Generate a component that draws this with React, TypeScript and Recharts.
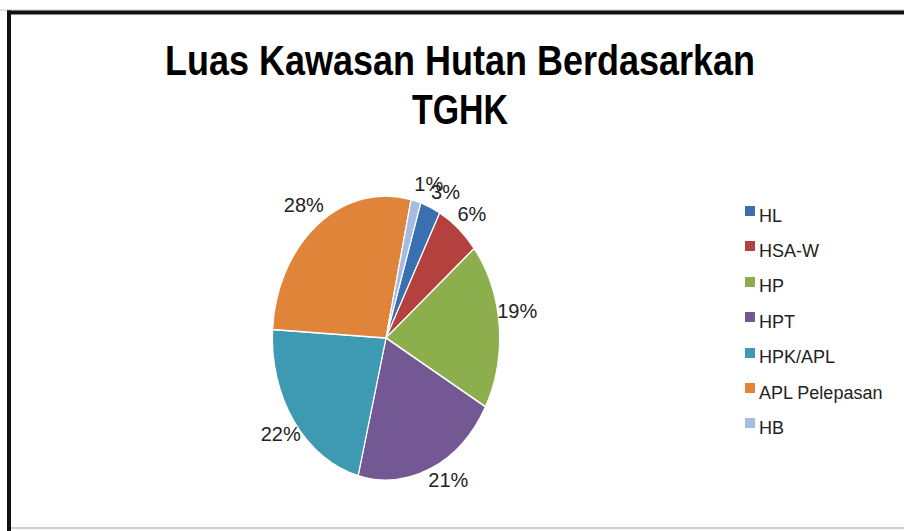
import { Cell, Legend, Pie, PieChart } from 'recharts';

const CATEGORIES = ['HL', 'HSA-W', 'HP', 'HPT', 'HPK/APL', 'APL Pelepasan', 'HB'];
const SHARES = [2.9, 6.3, 18.9, 20.9, 22.0, 27.6, 1.4];
const COLORS = ['#3a6fb0', '#b5413f', '#8cae4c', '#735893', '#3e9ab3', '#e0843a', '#a7bbe0'];
const TITLE_LINES = ['Luas Kawasan Hutan Berdasarkan', 'TGHK'];

const pieData = CATEGORIES.map((name, i) => ({ name, value: SHARES[i] }));

const CX = 386;
const CY = 338;
const RADIUS = 142;
const SQUEEZE = 0.8; // the pie is drawn as an ellipse, narrower than tall
const RAD = Math.PI / 180;

// small hand nudges so the labels sit where the original placed them
const LABEL_NUDGE: [number, number][] = [
  [8, 6],
  [2, 3],
  [0, -12],
  [10, -9],
  [1, -1],
  [-3, -1],
  [8, 5]
];

type LabelProps = { cx: number; cy: number; midAngle: number; outerRadius: number; percent: number; index: number };

function renderLabel({ cx, cy, midAngle, outerRadius, percent, index }: LabelProps) {
  const k = 1.16;
  const [nx, ny] = LABEL_NUDGE[index] || [0, 0];
  const x = cx + Math.cos(-midAngle * RAD) * outerRadius * SQUEEZE * k + nx;
  const y = cy + Math.sin(-midAngle * RAD) * outerRadius * k + ny;
  return (
    <text
      x={x}
      y={y}
      textAnchor="middle"
      dominantBaseline="central"
      fill="#222"
      fontSize={20}
      fontFamily="'Liberation Sans', Arial, sans-serif"
    >
      {`${Math.round(percent * 100)}%`}
    </text>
  );
}

function renderLegend() {
  return (
    <div style={{ position: 'relative' }}>
      {CATEGORIES.map((name, i) => (
        <div key={name} style={{ position: 'relative', height: 35.4 }}>
          <span
            style={{
              position: 'absolute',
              left: 0,
              top: 13,
              width: 10,
              height: 10,
              background: COLORS[i]
            }}
          />
          <span
            style={{
              position: 'absolute',
              left: 14,
              top: 12.6,
              fontSize: 18,
              lineHeight: 'normal',
              whiteSpace: 'nowrap',
              color: '#222'
            }}
          >
            {name}
          </span>
        </div>
      ))}
    </div>
  );
}

export default function App() {
  return (
    <div
      style={{
        position: 'fixed',
        left: 0,
        top: 0,
        width: 904,
        height: 531,
        overflow: 'hidden',
        background: '#fff',
        fontFamily: "'Liberation Sans', Arial, sans-serif"
      }}
    >
      <style>{`.tghk-pie path.recharts-sector { transform: scaleX(${SQUEEZE}); transform-origin: ${CX}px ${CY}px; }`}</style>

      <svg width={904} height={531} style={{ position: 'absolute', left: 0, top: 0 }}>
        {/* frame: only top, left and a faint bottom edge are visible in the original */}
        <line x1={0} y1={10} x2={904} y2={10} stroke="#c8c8c8" strokeWidth={1} />
        <line x1={7} y1={12.5} x2={904} y2={12.5} stroke="#111" strokeWidth={4} />
        <line x1={9} y1={10.5} x2={9} y2={531} stroke="#111" strokeWidth={4} />
        <line x1={11} y1={528} x2={904} y2={528} stroke="#d0d0d0" strokeWidth={2} />
        <text
          x={460}
          y={75}
          textAnchor="middle"
          fontSize={42}
          fontWeight="bold"
          fill="#000"
          textLength={590}
          lengthAdjust="spacingAndGlyphs"
        >
          {TITLE_LINES[0]}
        </text>
        <text
          x={460}
          y={124}
          textAnchor="middle"
          fontSize={42}
          fontWeight="bold"
          fill="#000"
          textLength={96}
          lengthAdjust="spacingAndGlyphs"
        >
          {TITLE_LINES[1]}
        </text>
      </svg>

      <div style={{ position: 'absolute', left: 0, top: 0 }}>
        <PieChart className="tghk-pie" width={904} height={531} margin={{ top: 0, right: 0, bottom: 0, left: 0 }}>
          <Pie
            data={pieData}
            dataKey="value"
            nameKey="name"
            cx={CX}
            cy={CY}
            outerRadius={RADIUS}
            startAngle={72.2}
            endAngle={-287.8}
            stroke="#fff"
            strokeWidth={1.5}
            label={renderLabel}
            labelLine={false}
            isAnimationActive={false}
          >
            {pieData.map((entry, i) => (
              <Cell key={entry.name} fill={COLORS[i]} />
            ))}
          </Pie>
          <Legend
            layout="vertical"
            align="right"
            verticalAlign="top"
            content={renderLegend}
            wrapperStyle={{ left: 745, top: 193, width: 160, right: 'auto' }}
          />
        </PieChart>
      </div>
    </div>
  );
}
